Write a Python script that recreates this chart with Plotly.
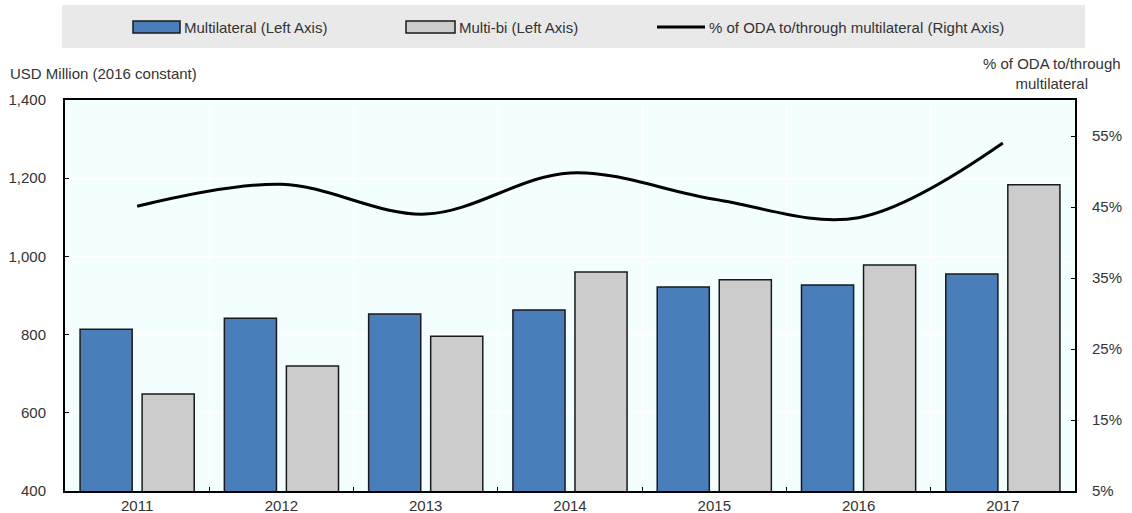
import plotly.graph_objects as go

years = ["2011", "2012", "2013", "2014", "2015", "2016", "2017"]
multilateral = [814, 842, 853, 863, 922, 927, 955]
multi_bi = [648, 720, 796, 960, 940, 978, 1183]
share_pct = [45.1, 48.2, 44.0, 49.8, 46.1, 43.5, 54.0]

left_ticks = [400, 600, 800, 1000, 1200, 1400]
left_tick_text = ["400", "600", "800", "1,000", "1,200", "1,400"]
right_ticks = [5, 15, 25, 35, 45, 55]
right_tick_text = ["5%", "15%", "25%", "35%", "45%", "55%"]

BLUE = "#4A7EBB"
GREY = "#CCCCCC"
EDGE = "#1A1A1A"
FONT = "Liberation Sans Narrow, Arial Narrow, Liberation Sans, Arial"
TXT = "#333333"
FS = 15

W, H = 1132, 513
ML, MR, MT, MB = 65, 57, 100, 22
PW, PH = W - ML - MR, H - MT - MB


def px(x):
    return (x - ML) / PW


def py(y):
    return (H - MB - y) / PH


fig = go.Figure()
fig.add_trace(go.Bar(x=years, y=multilateral, name="Multilateral (Left Axis)",
                     marker=dict(color=BLUE, line=dict(color=EDGE, width=1.5)),
                     showlegend=False))
fig.add_trace(go.Bar(x=years, y=multi_bi, name="Multi-bi (Left Axis)",
                     marker=dict(color=GREY, line=dict(color=EDGE, width=1.5)),
                     showlegend=False))
fig.add_trace(go.Scatter(x=years, y=share_pct, yaxis="y2", mode="lines",
                         name="% of ODA to/through multilateral (Right Axis)",
                         line=dict(color="black", width=3, shape="spline", smoothing=1.0),
                         showlegend=False))

shapes = []
annotations = []

# legend panel
shapes.append(dict(type="rect", xref="paper", yref="paper", layer="below",
                   x0=px(62), x1=px(1085), y0=py(48), y1=py(5),
                   fillcolor="#E9E9E9", line=dict(width=0)))
legend_items = [
    ("bar", BLUE, 133, 180, "Multilateral (Left Axis)"),
    ("bar", GREY, 406, 455, "Multi-bi (Left Axis)"),
    ("line", "black", 657, 705, "% of ODA to/through multilateral (Right Axis)"),
]
for kind, col, x0, x1, label in legend_items:
    if kind == "bar":
        shapes.append(dict(type="rect", xref="paper", yref="paper",
                           x0=px(x0), x1=px(x1), y0=py(33), y1=py(21),
                           fillcolor=col, line=dict(color=EDGE, width=1.5)))
    else:
        shapes.append(dict(type="line", xref="paper", yref="paper",
                           x0=px(x0), x1=px(x1), y0=py(27), y1=py(27),
                           line=dict(color=col, width=3)))
    annotations.append(dict(xref="paper", yref="paper", x=px(x1 + 2), y=py(27),
                            text=label, showarrow=False, xanchor="left", yanchor="middle",
                            font=dict(family=FONT, size=FS, color=TXT)))

# axis titles
annotations.append(dict(xref="paper", yref="paper", x=px(8), y=py(73),
                        text="USD Million (2016 constant)", showarrow=False,
                        xanchor="left", yanchor="middle",
                        font=dict(family=FONT, size=FS, color=TXT)))
annotations.append(dict(xref="paper", yref="paper", x=px(1052), y=py(74),
                        text="% of ODA to/through<br>multilateral", showarrow=False,
                        xanchor="center", yanchor="middle", align="center",
                        font=dict(family=FONT, size=FS, color=TXT)))

fig.update_layout(
    width=W, height=H,
    margin=dict(l=ML, r=MR, t=MT, b=MB, pad=0, autoexpand=False),
    paper_bgcolor="white",
    plot_bgcolor="#F3FFFF",
    barmode="group", bargap=0.14, bargroupgap=0.16,
    font=dict(family=FONT, size=FS, color=TXT),
    shapes=shapes, annotations=annotations,
    xaxis=dict(type="category", tickson="boundaries", ticks="inside", ticklen=4,
               tickcolor="black", showgrid=True, gridcolor="white", gridwidth=1,
               showline=True, linecolor="black", linewidth=2, mirror=True,
               automargin=False, ticklabelstandoff=0,
               tickfont=dict(family=FONT, size=FS, color=TXT)),
    yaxis=dict(range=[400, 1400], tickvals=left_ticks, ticktext=left_tick_text,
               ticks="inside", ticklen=4, tickcolor="black",
               showgrid=True, gridcolor="white", gridwidth=1, zeroline=False,
               showline=True, linecolor="black", linewidth=2,
               ticklabelstandoff=14, automargin=False,
               tickfont=dict(family=FONT, size=FS, color=TXT)),
    yaxis2=dict(range=[5, 60.07], overlaying="y", side="right",
                tickvals=right_ticks, ticktext=right_tick_text,
                ticks="inside", ticklen=4, tickcolor="black",
                showgrid=False, zeroline=False,
                showline=True, linecolor="black", linewidth=2,
                ticklabelstandoff=12, automargin=False,
                tickfont=dict(family=FONT, size=FS, color=TXT)),
)

fig.write_html("out.html")
